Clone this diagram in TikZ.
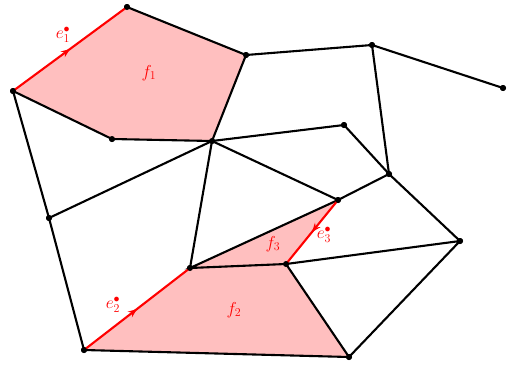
\documentclass[tikz,border=0pt]{standalone}
\usetikzlibrary{arrows.meta,decorations.markings}
\begin{document}
\begin{tikzpicture}[x=1pt,y=-1pt,
  vdot/.style={circle,fill=black,inner sep=0pt,minimum size=6pt},
  edge/.style={line width=2.1pt,black},
  redge/.style={line width=2.1pt,red,postaction={decorate},
    decoration={markings,mark=at position 0.5 with {\arrow{Stealth[length=9pt,width=7pt,inset=3pt]}}}},
  face/.style={fill=red!25},
  lab/.style={text=red,font=\fontsize{17}{20}\selectfont}]
\useasboundingbox (0,0) rectangle (508,367);
\node[vdot] (A) at (13,91) {};
\node[vdot] (B) at (127,7) {};
\node[vdot] (C) at (246,55) {};
\node[vdot] (D) at (372,45) {};
\node[vdot] (E) at (503,88) {};
\node[vdot] (F) at (112,139) {};
\node[vdot] (G) at (212,141) {};
\node[vdot] (H) at (344,125) {};
\node[vdot] (I) at (389,174) {};
\node[vdot] (J) at (49,218) {};
\node[vdot] (K) at (338,200) {};
\node[vdot] (L) at (460,241) {};
\node[vdot] (M) at (190,268) {};
\node[vdot] (N) at (286,264) {};
\node[vdot] (O) at (84,350) {};
\node[vdot] (P) at (349,357) {};
\fill[face] (A.center) -- (B.center) -- (C.center) -- (G.center) -- (F.center) -- cycle;
\fill[face] (O.center) -- (M.center) -- (N.center) -- (P.center) -- cycle;
\fill[face] (M.center) -- (K.center) -- (N.center) -- cycle;
\draw[edge] (B.center) -- (C.center) -- (G.center) -- (F.center) -- (A.center);
\draw[edge] (C.center) -- (D.center) -- (E.center);
\draw[edge] (D.center) -- (I.center);
\draw[edge] (G.center) -- (H.center) -- (I.center);
\draw[edge] (A.center) -- (J.center) -- (O.center);
\draw[edge] (J.center) -- (G.center);
\draw[edge] (G.center) -- (M.center);
\draw[edge] (G.center) -- (K.center);
\draw[edge] (K.center) -- (I.center) -- (L.center);
\draw[edge] (K.center) -- (M.center) -- (N.center) -- (L.center) -- (P.center);
\draw[edge] (N.center) -- (P.center) -- (O.center);
\draw[redge] (A.center) -- (B.center);
\draw[redge] (O.center) -- (M.center);
\draw[redge] (K.center) -- (N.center);
\foreach \v in {A,B,C,D,E,F,G,H,I,J,K,L,M,N,O,P} \node[vdot] at (\v) {};
\node[lab] (le1) at (63,35) {$e_1^{\bullet}$};
\node[lab] (le2) at (113,305) {$e_2^{\bullet}$};
\node[lab] (le3) at (324,235) {$e_3^{\bullet}$};
\node[lab] (lf1) at (149,73) {$f_1$};
\node[lab] (lf2) at (234,310) {$f_2$};
\node[lab] (lf3) at (273,244) {$f_3$};
\end{tikzpicture}
\end{document}
